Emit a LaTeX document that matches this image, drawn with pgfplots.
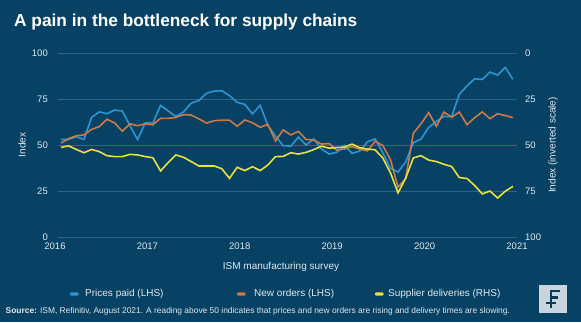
\documentclass[border=0pt]{standalone}
\usepackage{fontspec}
\setmainfont{Liberation Sans}
\usepackage{pgfplots}
\usepackage{pgfplotstable}
\pgfplotsset{compat=1.18}
\definecolor{bg}{RGB}{7,65,99}
\definecolor{pp}{RGB}{45,150,210}
\definecolor{no}{RGB}{205,122,72}
\definecolor{sd}{RGB}{232,226,60}
\definecolor{gridc}{RGB}{45,100,135}
\definecolor{fifty}{RGB}{105,85,95}
\definecolor{txt}{RGB}{225,233,239}
\definecolor{logobg}{RGB}{200,212,222}
\definecolor{logofg}{RGB}{10,58,90}
\pgfplotstableread{
i pp no sd
0 53.0 51.0 51.3
1 53.0 53.5 50.5
2 54.5 55.0 52.4
3 53.0 55.5 54.2
4 65.0 58.5 52.4
5 68.0 60.0 53.6
6 67.0 64.0 55.8
7 69.0 62.0 56.3
8 68.5 57.5 56.3
9 60.5 61.5 55.1
10 53.0 60.5 55.4
11 62.0 61.5 56.3
12 62.0 61.0 56.9
13 71.5 64.5 64.1
14 68.5 64.5 59.5
15 65.5 65.0 55.4
16 68.0 66.5 56.7
17 72.7 66.3 59.0
18 74.2 64.2 61.4
19 78.1 61.9 61.4
20 79.3 63.2 61.4
21 79.5 63.5 62.9
22 76.8 63.5 68.1
23 73.2 60.2 62.1
24 72.1 63.6 63.9
25 66.9 62.1 61.8
26 71.6 59.6 63.9
27 60.7 61.2 60.9
28 54.9 52.2 56.3
29 49.6 58.2 56.2
30 49.4 55.5 54.2
31 54.3 57.4 54.9
32 50.0 53.0 54.0
33 53.2 52.7 52.5
34 47.9 50.5 50.7
35 45.1 50.8 51.7
36 46.0 47.2 51.4
37 49.7 47.8 51.1
38 45.5 49.1 49.5
39 46.7 47.8 51.5
40 51.7 46.8 52.2
41 53.3 52.0 52.6
42 45.9 49.8 57.0
43 37.4 42.2 65.0
44 35.3 27.1 76.0
45 40.8 31.8 68.0
46 51.3 56.4 57.0
47 53.2 61.5 55.8
48 59.5 67.6 58.2
49 62.8 60.2 59.0
50 65.5 67.9 60.5
51 65.4 65.1 61.7
52 77.6 67.9 67.7
53 82.1 61.1 68.2
54 86.0 64.8 72.0
55 85.6 68.0 76.6
56 89.6 64.3 75.0
57 88.0 67.0 78.8
58 92.1 66.0 75.1
59 85.7 64.9 72.5
}\data
\begin{document}
\begin{tikzpicture}
\fill[bg] (0pt,0pt) rectangle (581pt,322pt);
\useasboundingbox (0pt,0pt) rectangle (581pt,322pt);
\pgfplotsset{
  common/.style={
    at={(58pt,85pt)}, anchor=south west,
    scale only axis, width=459pt, height=184pt,
    xmin=-0.39, xmax=59.53, ymin=0, ymax=100,
    axis line style={draw=none},
    major tick length=0pt,
    tick label style={font=\fontsize{9.5}{11}\selectfont, text=txt, inner sep=0pt},
    /pgf/number format/assume math mode=true,
  }
}
\begin{axis}[common,
  ytick={0,25,75,100},
  extra y ticks={50},
  extra y tick style={grid style={fifty, line width=1pt}},
  ymajorgrids,
  grid style={gridc, line width=0.9pt},
  yticklabel style={anchor=east, xshift=-10pt},
  xtick={-0.39,11.28,23.34,35.40,47.47,59.53},
  xticklabels={\hspace*{-6pt}2016,2017,2018,2019,2020,2021},
  xticklabel style={anchor=north, yshift=-6pt},
]
\addplot[pp, line width=1.6pt] table[x=i, y=pp] {\data};
\addplot[no, line width=1.6pt] table[x=i, y=no] {\data};
\end{axis}
\begin{axis}[common,
  y dir=reverse,
  ytick={0,25,50,75,100},
  axis x line=none,
  yticklabel pos=right,
  yticklabel style={anchor=west, xshift=8pt},
]
\addplot[sd, line width=1.6pt] table[x=i, y=sd] {\data};
\end{axis}
% titles and labels
\node[anchor=base west, inner sep=0pt, text=white, font=\fontsize{17.3}{20}\selectfont\bfseries] at (14pt,295pt) {A pain in the bottleneck for supply chains};
\node[rotate=90, text=txt, font=\fontsize{10}{12}\selectfont, inner sep=0pt] at (22pt,177pt) {Index};
\node[rotate=90, text=txt, font=\fontsize{10}{12}\selectfont, inner sep=0pt] at (553pt,177pt) {Index (inverted scale)};
\node[text=txt, font=\fontsize{10}{12}\selectfont, inner sep=0pt] at (281pt,55pt) {ISM manufacturing survey};
% legend
\fill[pp, rounded corners=1pt] (70pt,26.3pt) rectangle (78.5pt,29.7pt);
\node[anchor=west, text=txt, font=\fontsize{10}{12}\selectfont, inner sep=0pt] at (85pt,28pt) {Prices paid (LHS)};
\fill[no, rounded corners=1pt] (237pt,26.3pt) rectangle (245.5pt,29.7pt);
\node[anchor=west, text=txt, font=\fontsize{10}{12}\selectfont, inner sep=0pt] at (254pt,28pt) {New orders (LHS)};
\fill[sd, rounded corners=1pt] (375pt,26.3pt) rectangle (383.5pt,29.7pt);
\node[anchor=west, text=txt, font=\fontsize{10}{12}\selectfont, inner sep=0pt] at (388pt,28pt) {Supplier deliveries (RHS)};
% source
\node[anchor=west, text=txt, font=\fontsize{8.4}{10}\selectfont, inner sep=0pt] at (5.5pt,11pt) {\textbf{Source:} ISM, Refinitiv, August 2021. A reading above 50 indicates that prices and new orders are rising and delivery times are slowing.};
% logo
\fill[logobg] (539pt,9pt) rectangle (567pt,37pt);
\draw[logofg, line width=2.6pt] (551pt,14pt) -- (551pt,31pt);
\draw[logofg, line width=2.4pt] (549.8pt,31pt) -- (560pt,31pt);
\draw[logofg, line width=2.2pt] (549.8pt,24.5pt) -- (558pt,24.5pt);
\draw[logofg, line width=1.6pt] (546pt,19pt) -- (556pt,19pt);
\end{tikzpicture}
\end{document}
